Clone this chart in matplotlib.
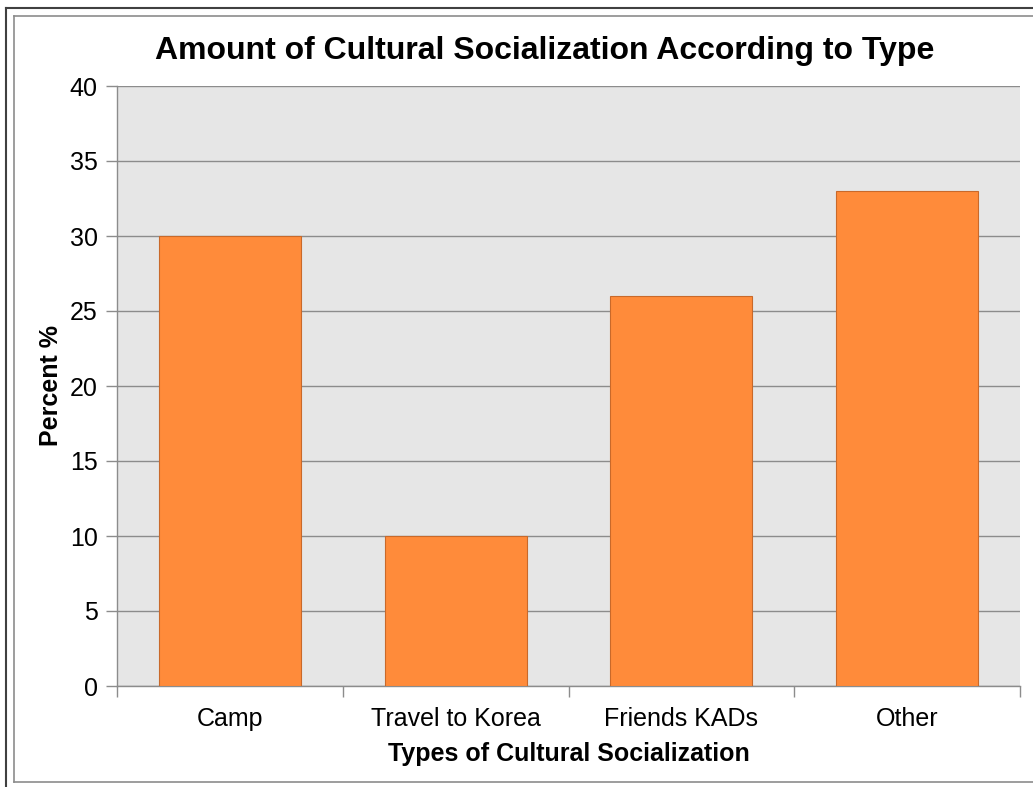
import matplotlib
matplotlib.use("Agg")
import matplotlib.pyplot as plt
from matplotlib.lines import Line2D
import numpy as np

plt.rcParams['font.family'] = ['Liberation Sans', 'DejaVu Sans']

categories = ["Camp", "Travel to Korea", "Friends KADs", "Other"]
percent = [30, 10, 26, 33]
y_ticks = [0, 5, 10, 15, 20, 25, 30, 35, 40]

W, H = 1033, 787
fig = plt.figure(figsize=(W / 100, H / 100), dpi=100)

def fx(px):
    return px / W

def fy(py):
    return 1 - py / H

ax = fig.add_axes([fx(117), fy(686), fx(1020) - fx(117), fy(86) - fy(686)])
ax.set_facecolor("#E6E6E6")

x = np.arange(len(categories))
ax.bar(x, percent, width=0.63, color="#FF8B3A", edgecolor="#C9692A", linewidth=0.8, zorder=3)

ax.set_xlim(-0.5, len(categories) - 0.5)
ax.set_ylim(0, 40)
ax.set_yticks(y_ticks)
ax.yaxis.grid(True, color="#8C8C8C", linewidth=1.0, zorder=1)
ax.set_axisbelow(True)

# category boundaries carry the tick marks, centres carry the labels
ax.set_xticks(np.arange(-0.5, len(categories), 1.0))
ax.set_xticklabels([])
ax.set_xticks(x, minor=True)
ax.set_xticklabels(categories, minor=True, fontsize=18)
ax.tick_params(axis='x', which='major', length=8, width=1, color="#8C8C8C", direction='out')
ax.tick_params(axis='x', which='minor', length=0, pad=15)
ax.tick_params(axis='y', length=8, width=1, color="#8C8C8C", labelsize=18, pad=6)

for side in ("top", "right"):
    ax.spines[side].set_visible(False)
for side in ("left", "bottom"):
    ax.spines[side].set_color("#8C8C8C")
    ax.spines[side].set_linewidth(1.0)

ax.set_xlabel("Types of Cultural Socialization", fontsize=18, fontweight='bold', labelpad=8)
ax.set_ylabel("Percent %", fontsize=18, fontweight='bold', labelpad=5)

fig.text(fx(545), fy(51), "Amount of Cultural Socialization According to Type",
         ha='center', va='center', fontsize=23, fontweight='bold')

# outer frame (dark) and inner chart-area border (gray)
fig.add_artist(Line2D([fx(5.5), fx(5.5)], [fy(8), 0], color="#404040", linewidth=1.5))
fig.add_artist(Line2D([fx(5.5), 1], [fy(8), fy(8)], color="#404040", linewidth=1.5))
fig.add_artist(Line2D([fx(14), fx(14)], [fy(16), fy(782)], color="#8C8C8C", linewidth=1.2))
fig.add_artist(Line2D([fx(14), 1], [fy(16), fy(16)], color="#8C8C8C", linewidth=1.2))
fig.add_artist(Line2D([fx(14), 1], [fy(782), fy(782)], color="#8C8C8C", linewidth=1.2))

fig.savefig("out.png", dpi=100)
